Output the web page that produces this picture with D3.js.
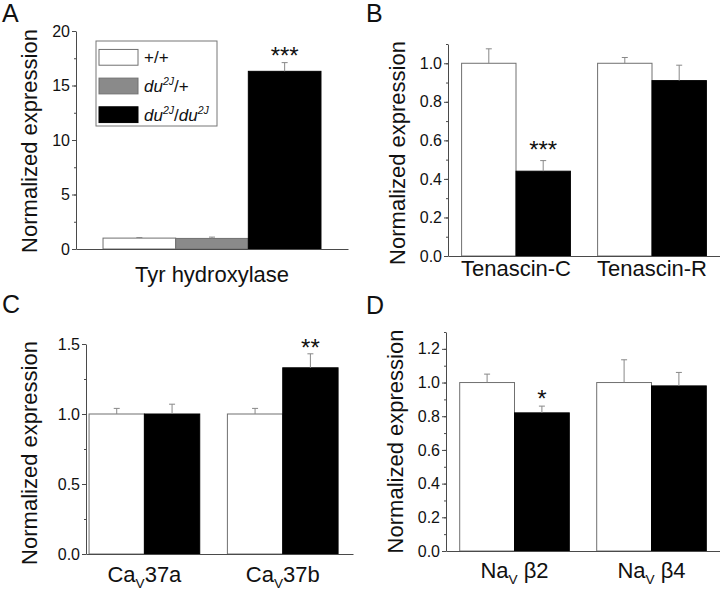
<!DOCTYPE html>
<html>
<head>
<meta charset="utf-8">
<script src="https://cdn.jsdelivr.net/npm/d3@7"></script>
<style>
  body { margin: 0; background: #fff; }
  svg text { font-family: "Liberation Sans", Arial, sans-serif; fill: #111; }
</style>
</head>
<body>
<script>
// series (genotypes)
const seriesKeys = ['wt', 'het', 'mut']
const seriesFill = { wt: '#ffffff', het: '#8a8a8a', mut: '#000000' }

// panel A
const catsA = [[['Tyr hydroxylase', '']]]
const wtA = [1.0], wtErrA = [0.05]
const hetA = [0.97], hetErrA = [0.12]
const mutA = [16.3], mutErrA = [0.8]
const starsA = ['***']
const ticksA = [0, 5, 10, 15, 20]

// panel B
const catsB = [[['Tenascin-C', '']], [['Tenascin-R', '']]]
const wtB = [1.0, 1.0], wtErrB = [0.075, 0.03]
const mutB = [0.44, 0.91], mutErrB = [0.055, 0.08]
const starsB = ['***', '']
const ticksB = [0.0, 0.2, 0.4, 0.6, 0.8, 1.0]

// panel C
const catsC = [[['Ca', ''], ['V', 'sub'], ['37a', '']], [['Ca', ''], ['V', 'sub'], ['37b', '']]]
const wtC = [1.0, 1.0], wtErrC = [0.04, 0.04]
const mutC = [1.0, 1.33], mutErrC = [0.07, 0.10]
const starsC = ['', '**']
const ticksC = [0.0, 0.5, 1.0, 1.5]

// panel D
const catsD = [[['Na', ''], ['V', 'sub'], [' β2', '']], [['Na', ''], ['V', 'sub'], [' β4', '']]]
const wtD = [1.0, 1.0], wtErrD = [0.05, 0.135]
const mutD = [0.82, 0.98], mutErrD = [0.04, 0.08]
const starsD = ['*', '']
const ticksD = [0.0, 0.2, 0.4, 0.6, 0.8, 1.0, 1.2]

// legend labels (segments: text, style)
const legendLabels = [
  [['+/+', '']],
  [['du', 'i'], ['2J', 'sup'], ['/+', '']],
  [['du', 'i'], ['2J', 'sup'], ['/', ''], ['du', 'i'], ['2J', 'sup']]
]

const W = 720, H = 591
const svg = d3.select('body').append('svg').attr('width', W).attr('height', H)

const axisColor = '#4a4a4a'
const barStroke = '#707070'

function richText(sel, parts, size) {
  let shift = 0
  parts.forEach(p => {
    const t = sel.append('tspan').text(p[0])
    let want = 0
    if (p[1] === 'sub') { t.attr('font-size', size * 0.62); want = size * 0.25 }
    if (p[1] === 'sup') { t.attr('font-size', size * 0.62).attr('font-style', 'italic'); want = -size * 0.42 }
    if (p[1] === 'i') t.attr('font-style', 'italic')
    t.attr('dy', want - shift)
    shift = want
  })
}

function panel(cfg) {
  const g = svg.append('g')
  const y = d3.scaleLinear().domain(cfg.domain).range([cfg.y0, cfg.yTop])
  const x = d3.scaleBand().domain(d3.range(cfg.cats.length)).range([cfg.left, cfg.right])
    .paddingInner(cfg.padIn).paddingOuter(cfg.padOut).align(cfg.align)
  const xs = d3.scaleBand().domain(cfg.keys).range([0, x.bandwidth()])

  const rows = []
  cfg.cats.forEach((c, i) => {
    cfg.keys.forEach(k => {
      rows.push({ i, k, v: cfg.vals[k][i], e: cfg.errs[k][i], star: k === 'mut' ? cfg.stars[i] : '' })
    })
  })

  // bars
  g.selectAll('rect.bar').data(rows).enter().append('rect')
    .attr('x', d => x(d.i) + xs(d.k))
    .attr('y', d => y(d.v))
    .attr('width', xs.bandwidth())
    .attr('height', d => y(0) - y(d.v))
    .attr('fill', d => seriesFill[d.k])
    .attr('stroke', d => d.k === 'mut' ? '#000' : barStroke)
    .attr('stroke-width', 1)

  // error bars (upper only)
  const eb = g.selectAll('g.err').data(rows).enter().append('g')
  eb.append('line')
    .attr('x1', d => x(d.i) + xs(d.k) + xs.bandwidth() / 2)
    .attr('x2', d => x(d.i) + xs(d.k) + xs.bandwidth() / 2)
    .attr('y1', d => y(d.v)).attr('y2', d => y(d.v + d.e))
    .attr('stroke', '#888').attr('stroke-width', 1)
  eb.append('line')
    .attr('x1', d => x(d.i) + xs(d.k) + xs.bandwidth() / 2 - 3)
    .attr('x2', d => x(d.i) + xs(d.k) + xs.bandwidth() / 2 + 3)
    .attr('y1', d => y(d.v + d.e)).attr('y2', d => y(d.v + d.e))
    .attr('stroke', '#888').attr('stroke-width', 1)

  // significance stars
  g.selectAll('text.star').data(rows.filter(d => d.star)).enter().append('text')
    .attr('x', d => x(d.i) + xs(d.k) + xs.bandwidth() / 2)
    .attr('y', d => y(d.v + d.e) + cfg.starDy)
    .attr('text-anchor', 'middle').attr('font-size', 24)
    .text(d => d.star)

  // y axis, major + minor
  const yMinor = d3.range(cfg.domain[0], cfg.domain[1] + 1e-9, cfg.minor)
  g.append('g').attr('transform', `translate(${cfg.left},0)`)
    .call(d3.axisLeft(y).tickValues(yMinor).tickSize(2).tickSizeOuter(0).tickFormat(''))
    .call(a => a.selectAll('line,path').attr('stroke', axisColor))
  g.append('g').attr('transform', `translate(${cfg.left},0)`)
    .call(d3.axisLeft(y).tickValues(cfg.ticks).tickSize(4).tickSizeOuter(0).tickPadding(2).tickFormat(d3.format(cfg.fmt)))
    .call(a => a.select('.domain').remove())
    .call(a => a.selectAll('line').attr('stroke', axisColor))
    .call(a => a.selectAll('text').attr('font-size', 16).attr('fill', '#111')
      .attr('font-family', '"Liberation Sans", Arial, sans-serif'))

  // x axis line
  g.append('g').attr('transform', `translate(0,${cfg.y0})`)
    .call(d3.axisBottom(x).tickSize(0).tickSizeOuter(0).tickFormat(''))
    .call(a => a.select('.domain').attr('stroke', axisColor))

  // category labels
  cfg.cats.forEach((parts, i) => {
    const t = g.append('text')
      .attr('x', x(i) + x.bandwidth() / 2)
      .attr('y', cfg.y0 + cfg.labelDy)
      .attr('text-anchor', 'middle').attr('font-size', 22)
    richText(t, parts, 22)
  })

  // y label
  g.append('text')
    .attr('transform', `translate(${cfg.ylabX},${(cfg.y0 + cfg.yTop) / 2 + cfg.ylabDy}) rotate(-90)`)
    .attr('text-anchor', 'middle').attr('font-size', 22)
    .text('Normalized expression')

  // panel letter
  g.append('text').attr('x', cfg.letterX).attr('y', cfg.letterY)
    .attr('font-size', 25).text(cfg.letter)

  return { x, xs, y }
}

panel({
  letter: 'A', letterX: 2, letterY: 22,
  cats: catsA, keys: seriesKeys,
  vals: { wt: wtA, het: hetA, mut: mutA }, errs: { wt: wtErrA, het: hetErrA, mut: mutErrA },
  stars: starsA, domain: [0, 20], ticks: ticksA, minor: 2.5, fmt: 'd',
  left: 76, right: 348, y0: 249, yTop: 31, starDy: 1,
  padIn: 0, padOut: 0.124, align: 0.5, labelDy: 33, ylabX: 37, ylabDy: 1
})

panel({
  letter: 'B', letterX: 366, letterY: 22,
  cats: catsB, keys: ['wt', 'mut'],
  vals: { wt: wtB, mut: mutB }, errs: { wt: wtErrB, mut: mutErrB },
  stars: starsB, domain: [0, 1.1], ticks: ticksB, minor: 0.1, fmt: '.1f',
  left: 448, right: 720, y0: 256, yTop: 44, starDy: -3,
  padIn: 0.2, padOut: 0.1, align: 0.5, labelDy: 20, ylabX: 405, ylabDy: 3
})

panel({
  letter: 'C', letterX: 2, letterY: 313,
  cats: catsC, keys: ['wt', 'mut'],
  vals: { wt: wtC, mut: mutC }, errs: { wt: wtErrC, mut: mutErrC },
  stars: starsC, domain: [0, 1.5], ticks: ticksC, minor: 0.25, fmt: '.1f',
  left: 86, right: 353, y0: 554, yTop: 344, starDy: 2,
  padIn: 0.2, padOut: 0.065, align: 0.17, labelDy: 28, ylabX: 37, ylabDy: 4
})

panel({
  letter: 'D', letterX: 366, letterY: 314,
  cats: catsD, keys: ['wt', 'mut'],
  vals: { wt: wtD, mut: mutD }, errs: { wt: wtErrD, mut: mutErrD },
  stars: starsD, domain: [0, 1.3], ticks: ticksD, minor: 0.1, fmt: '.1f',
  left: 446, right: 720, y0: 551, yTop: 332, starDy: 1,
  padIn: 0.2, padOut: 0.1, align: 0.5, labelDy: 27, ylabX: 403, ylabDy: 0
})

// legend in panel A
const lg = svg.append('g').attr('transform', 'translate(96,41)')
lg.append('rect').attr('width', 121).attr('height', 85)
  .attr('fill', '#fff').attr('stroke', '#777').attr('stroke-width', 1)
const ly = d3.scaleBand().domain(seriesKeys).range([5, 85]).paddingInner(0.45).paddingOuter(0.12)
seriesKeys.forEach((k, i) => {
  lg.append('rect').attr('x', 3).attr('y', ly(k)).attr('width', 39).attr('height', ly.bandwidth())
    .attr('fill', seriesFill[k]).attr('stroke', k === 'mut' ? '#000' : barStroke)
  const t = lg.append('text').attr('x', 48).attr('y', ly(k) + ly.bandwidth() / 2 + 6)
    .attr('font-size', 17)
  richText(t, legendLabels[i], 17)
})
</script>
</body>
</html>
